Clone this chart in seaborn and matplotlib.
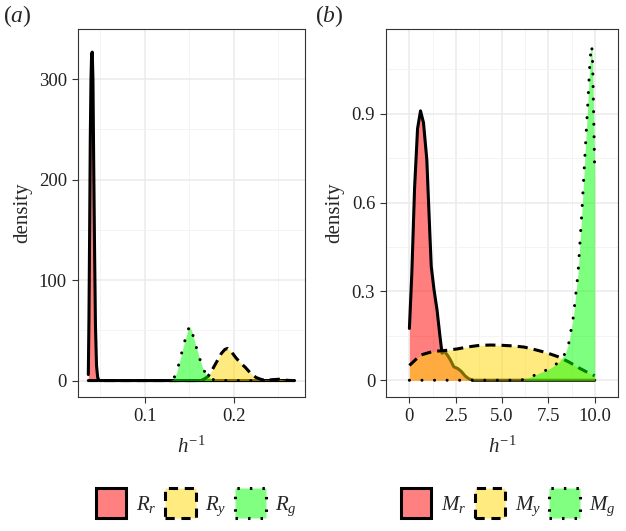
import numpy as np
import seaborn as sns
import matplotlib.pyplot as plt
from matplotlib.patches import Patch

# panel (a): density of h^-1 for R_r, R_y, R_g
ra_x = [0.0370, 0.0377, 0.0385, 0.0392, 0.0400, 0.0407, 0.0414, 0.0422, 0.0430,
        0.0440, 0.0450, 0.0462, 0.0475, 0.0490, 0.2680]
ra_y = [6, 60, 150, 240, 300, 325, 327, 300, 220, 130, 55, 15, 3, 0, 0]

ya_x = [0.037, 0.160, 0.166, 0.171, 0.176, 0.181, 0.186, 0.190, 0.193, 0.197, 0.202,
        0.207, 0.213, 0.219, 0.225, 0.231, 0.238, 0.245, 0.251, 0.257, 0.262, 0.268]
ya_y = [0, 0, 1, 4, 11, 19, 27, 31, 32, 29, 23, 18, 13, 7, 3, 1, 0.5, 1, 1.3, 0.5, 0.1, 0]

ga_x = [0.037, 0.128, 0.132, 0.136, 0.140, 0.144, 0.148, 0.1505, 0.153, 0.157,
        0.161, 0.165, 0.169, 0.174, 0.180, 0.268]
ga_y = [0, 0, 1, 8, 22, 36, 49, 54, 49, 36, 24, 13, 6, 2, 0, 0]

# panel (b): density of h^-1 for M_r, M_y, M_g
rb_x = [0, 0.13, 0.28, 0.44, 0.6, 0.76, 0.94, 1.1, 1.18, 1.33, 1.49, 1.65, 1.76,
        1.9, 2.05, 2.2, 2.4, 2.6, 2.8, 3.0, 3.2, 3.45, 3.7, 10]
rb_y = [0.175, 0.36, 0.65, 0.85, 0.91, 0.87, 0.745, 0.5, 0.384, 0.305, 0.238, 0.148,
        0.091, 0.097, 0.085, 0.07, 0.045, 0.04, 0.03, 0.015, 0.005, 0.0, 0, 0]

yb_x = [0, 0.6, 1.25, 2.0, 2.6, 3.2, 3.8, 4.4, 5.0, 5.6, 6.2, 6.8, 7.4, 8.0, 8.6,
        9.2, 9.6, 10]
yb_y = [0.05, 0.085, 0.097, 0.101, 0.106, 0.113, 0.118, 0.119, 0.118, 0.116, 0.112,
        0.103, 0.093, 0.08, 0.062, 0.04, 0.027, 0.015]

gb_x = [0, 6.0, 6.4, 7.0, 7.6, 8.1, 8.4, 8.6, 8.85, 9.1, 9.3, 9.5, 9.65, 9.73,
        9.8, 9.84, 9.89, 9.97, 10]
gb_y = [0, 0, 0.007, 0.024, 0.04, 0.063, 0.09, 0.125, 0.215, 0.36, 0.56, 0.79,
        0.96, 1.06, 1.12, 1.13, 1.07, 0.81, 0.7]

xticks_a = [0.1, 0.2]
xlabels_a = ["0.1", "0.2"]
yticks_a = [0, 100, 200, 300]
ylabels_a = ["0", "100", "200", "300"]
xticks_b = [0, 2.5, 5.0, 7.5, 10.0]
xlabels_b = ["0", "2.5", "5.0", "7.5", "10.0"]
yticks_b = [0, 0.3, 0.6, 0.9]
ylabels_b = ["0", "0.3", "0.6", "0.9"]

labels_a = [r"$R_r$", r"$R_y$", r"$R_g$"]
labels_b = [r"$M_r$", r"$M_y$", r"$M_g$"]

sns.set_style("white")
plt.rcParams["font.family"] = ["Liberation Serif", "DejaVu Serif"]
plt.rcParams["mathtext.fontset"] = "custom"
plt.rcParams["mathtext.rm"] = "Liberation Serif"
plt.rcParams["mathtext.it"] = "Liberation Serif:italic"

fills = ["#FF0000", "#FFD700", "#00FF00"]
LW = 2.2
styles = ["-", (0, (3.3, 2.0)), (0, (0.01, 4.1))]
key_styles = ["-", (0, (3.0, 2.2)), (0, (0.8, 3.3))]
caps = ["butt", "butt", "round"]


def panel(ax, series, xt, xl, yt, yl):
    for i, (x, y) in enumerate(series):
        ax.fill_between(x, 0, y, color=fills[i], alpha=0.5, linewidth=0, zorder=2 * i + 1)
        sns.lineplot(x=x, y=y, ax=ax, color="black", linewidth=LW,
                     sort=False, estimator=None, zorder=2 * i + 2)
        ln = ax.lines[-1]
        ln.set_linestyle(styles[i])
        ln.set_dash_capstyle(caps[i])
    allx = np.concatenate([s[0] for s in series])
    ally = np.concatenate([s[1] for s in series])
    x0, x1 = allx.min(), allx.max()
    y0, y1 = 0, ally.max()
    ax.set_xlim(x0 - 0.05 * (x1 - x0), x1 + 0.05 * (x1 - x0))
    ax.set_ylim(y0 - 0.05 * (y1 - y0), y1 + 0.05 * (y1 - y0))
    ax.set_xticks(xt)
    ax.set_xticklabels(xl)
    ax.set_yticks(yt)
    ax.set_yticklabels(yl)
    # minor gridlines halfway between majors
    ax.set_xticks([t - (xt[1] - xt[0]) / 2 for t in xt] + [xt[-1] + (xt[1] - xt[0]) / 2], minor=True)
    ax.set_yticks([t + (yt[1] - yt[0]) / 2 for t in yt], minor=True)
    ax.grid(True, which="major", color="#EBEBEB", linewidth=1.1, zorder=0)
    ax.grid(True, which="minor", color="#F2F2F2", linewidth=0.6, zorder=0)
    ax.set_axisbelow(True)
    ax.tick_params(which="major", direction="out", length=4, width=0.8, color="#333333",
                   labelsize=13.5, labelcolor="#222222", pad=4, bottom=True, left=True)
    ax.tick_params(which="minor", length=0)
    for sp in ax.spines.values():
        sp.set_color("#333333")
        sp.set_linewidth(0.8)
    ax.set_xlabel(r"$h^{-1}$", fontsize=15, labelpad=8)
    ax.set_ylabel("density", fontsize=15, labelpad=5)


fig = plt.figure(figsize=(6.26, 5.31), dpi=100)
ax_a = fig.add_axes([0.1246, 0.2524, 0.487 - 0.1246, 0.9454 - 0.2524])
ax_b = fig.add_axes([0.617, 0.2524, 0.987 - 0.617, 0.9454 - 0.2524])

panel(ax_a, [(np.array(ra_x), np.array(ra_y)), (np.array(ya_x), np.array(ya_y)),
             (np.array(ga_x), np.array(ga_y))], xticks_a, xlabels_a, yticks_a, ylabels_a)
panel(ax_b, [(np.array(rb_x), np.array(rb_y)), (np.array(yb_x), np.array(yb_y)),
             (np.array(gb_x), np.array(gb_y))], xticks_b, xlabels_b, yticks_b, ylabels_b)

fig.text(0.004, 0.995, r"($a$)", fontsize=17, va="top", ha="left")
fig.text(0.503, 0.995, r"($b$)", fontsize=17, va="top", ha="left")


def handles():
    out = []
    for i, c in enumerate(fills):
        r, g, b = [int(c[k:k + 2], 16) / 255 for k in (1, 3, 5)]
        out.append(Patch(facecolor=(r * 0.5 + 0.5, g * 0.5 + 0.5, b * 0.5 + 0.5),
                         edgecolor="black", linewidth=LW, linestyle=key_styles[i],
                         joinstyle="miter"))
    return out


for labels, cx in [(labels_a, 0.314), (labels_b, 0.812)]:
    fig.legend(handles(), labels, loc="center", bbox_to_anchor=(cx, 0.053),
               ncol=3, frameon=False, fontsize=15, handlelength=1.45, handleheight=1.85,
               handletextpad=0.46, columnspacing=0.42, borderaxespad=0)

fig.savefig("out.png", dpi=100)
